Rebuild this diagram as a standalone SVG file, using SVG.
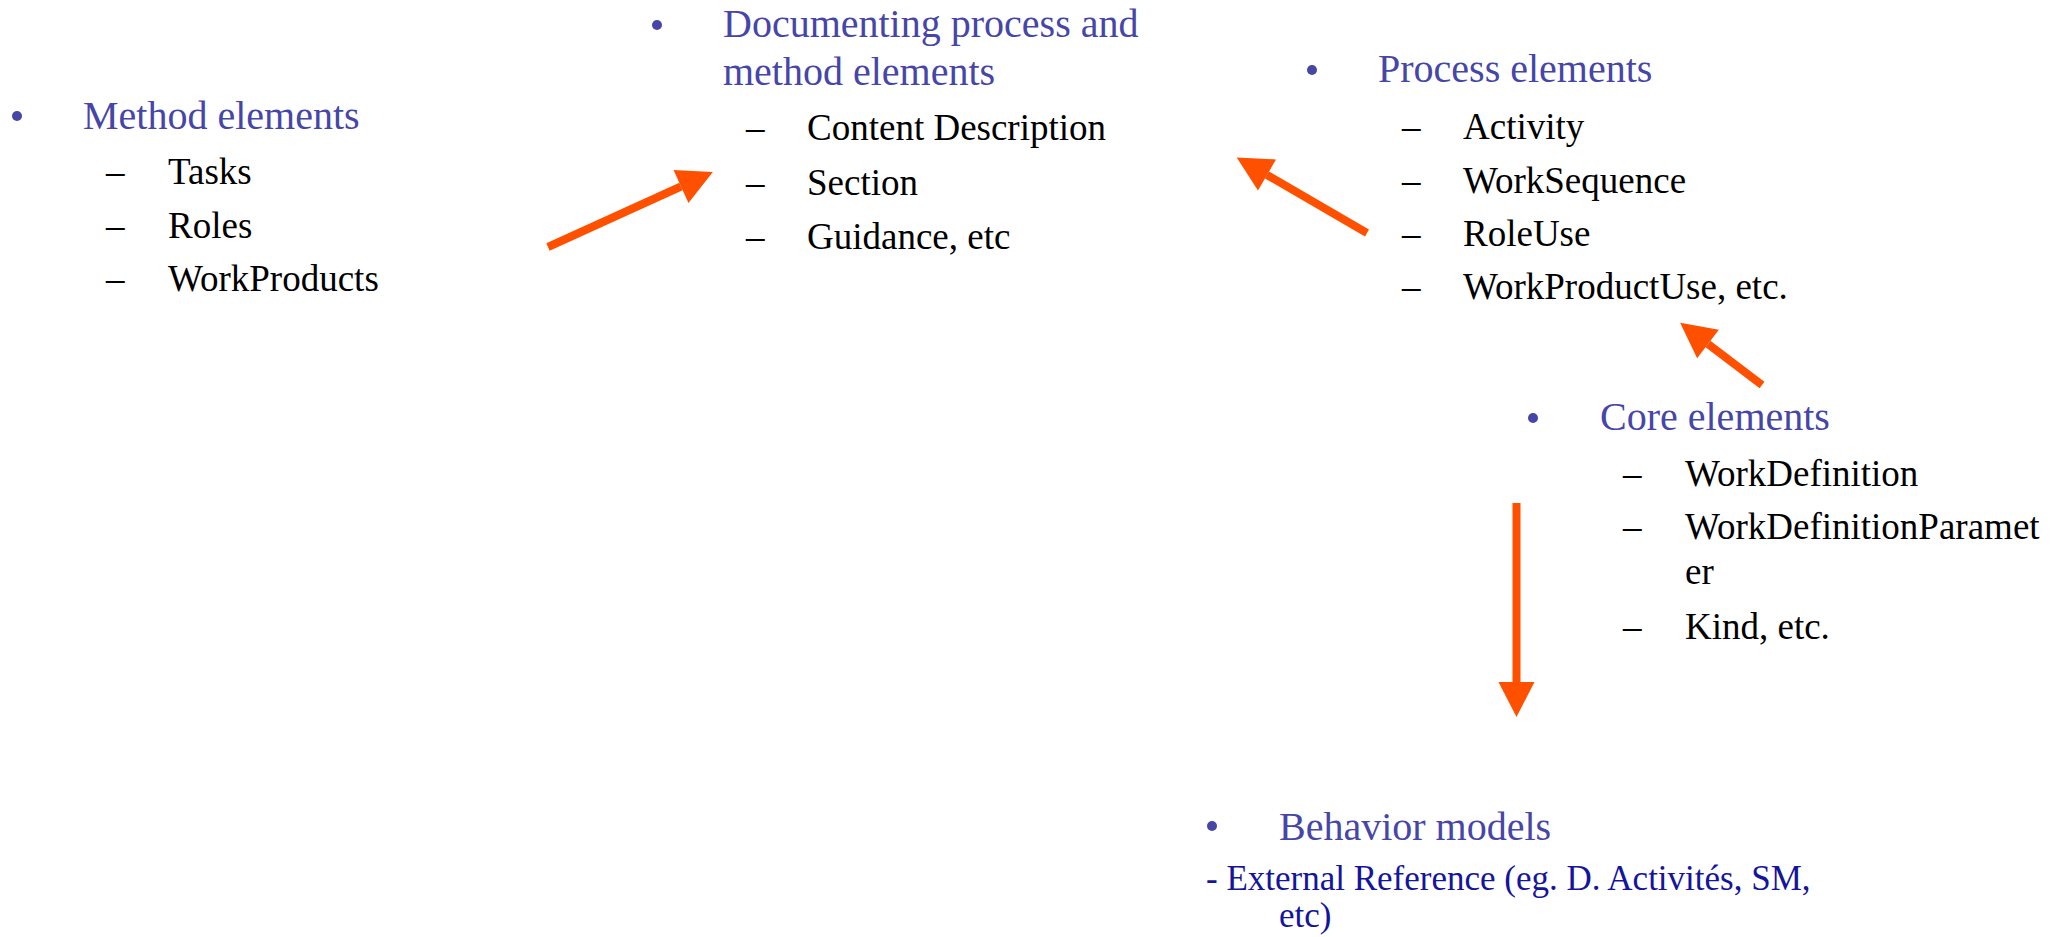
<svg xmlns="http://www.w3.org/2000/svg" width="2071" height="937" viewBox="0 0 2071 937">
<style>
.h{font-family:"Liberation Serif","Times New Roman",serif;font-size:40px;fill:#4646A8}
.s{font-family:"Liberation Serif","Times New Roman",serif;font-size:37px;fill:#000}
.x{font-family:"Liberation Serif","Times New Roman",serif;font-size:35px;fill:#14149C}
.b{fill:#4646A8}
.a{stroke:#FF5000;stroke-width:8;fill:none}
</style>
<defs>
<marker id="ah" markerUnits="userSpaceOnUse" markerWidth="36" markerHeight="36" refX="0" refY="18" orient="auto" overflow="visible">
<path d="M0,0 L35,18 L0,36 Z" fill="#FF5000"/>
</marker>
</defs>
<rect width="2071" height="937" fill="#fff"/>
<g id="method">
<circle class="b" cx="17" cy="116" r="5"/>
<text class="h" x="83" y="129">Method elements</text>
<text class="s" x="106" y="184">–</text><text class="s" x="168" y="184">Tasks</text>
<text class="s" x="106" y="238">–</text><text class="s" x="168" y="238">Roles</text>
<text class="s" x="106" y="291">–</text><text class="s" x="168" y="291">WorkProducts</text>
</g>
<g id="documenting">
<circle class="b" cx="657" cy="25" r="5"/>
<text class="h" x="723" y="37">Documenting process and</text>
<text class="h" x="723" y="85">method elements</text>
<text class="s" x="746" y="140">–</text><text class="s" x="807" y="140">Content Description</text>
<text class="s" x="746" y="195">–</text><text class="s" x="807" y="195">Section</text>
<text class="s" x="746" y="249">–</text><text class="s" x="807" y="249">Guidance, etc</text>
</g>
<g id="process">
<circle class="b" cx="1312" cy="70" r="5"/>
<text class="h" x="1378" y="82">Process elements</text>
<text class="s" x="1402" y="139">–</text><text class="s" x="1463" y="139">Activity</text>
<text class="s" x="1402" y="193">–</text><text class="s" x="1463" y="193">WorkSequence</text>
<text class="s" x="1402" y="246">–</text><text class="s" x="1463" y="246">RoleUse</text>
<text class="s" x="1402" y="299">–</text><text class="s" x="1463" y="299">WorkProductUse, etc.</text>
</g>
<g id="core">
<circle class="b" cx="1533" cy="418" r="5"/>
<text class="h" x="1600" y="430">Core elements</text>
<text class="s" x="1623" y="486">–</text><text class="s" x="1685" y="486">WorkDefinition</text>
<text class="s" x="1623" y="539">–</text><text class="s" x="1685" y="539">WorkDefinitionParamet</text>
<text class="s" x="1685" y="584">er</text>
<text class="s" x="1623" y="639">–</text><text class="s" x="1685" y="639">Kind, etc.</text>
</g>
<g id="behavior">
<circle class="b" cx="1212" cy="826" r="5"/>
<text class="h" x="1279" y="840">Behavior models</text>
<text class="x" x="1206" y="890">- External Reference (eg. D. Activités, SM,</text>
<text class="x" x="1279" y="927">etc)</text>
</g>
<g id="connectors">
<line class="a" x1="548" y1="247" x2="681" y2="186.5" marker-end="url(#ah)"/>
<line class="a" x1="1367" y1="233" x2="1267" y2="175" marker-end="url(#ah)"/>
<line class="a" x1="1762" y1="385" x2="1708" y2="344" marker-end="url(#ah)"/>
<line class="a" x1="1516.5" y1="503" x2="1516.5" y2="682" marker-end="url(#ah)"/>
</g>
</svg>
